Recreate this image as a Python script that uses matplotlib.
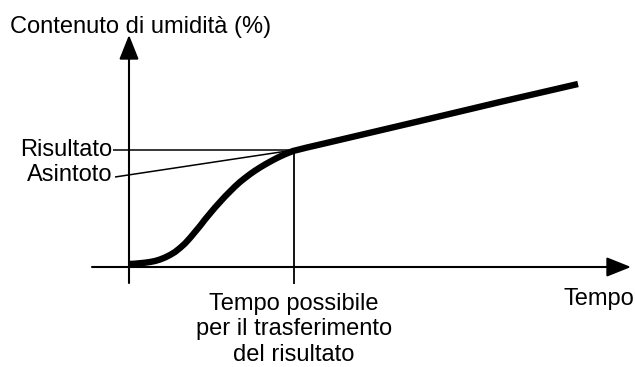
import matplotlib
matplotlib.use("Agg")
import matplotlib.pyplot as plt
import numpy as np

plt.rcParams['font.family'] = ['Liberation Sans', 'DejaVu Sans']

# Moisture-content curve (time, moisture), arbitrary units
curve_t = [0, 6, 11, 16, 21, 26, 31, 36, 41, 46, 51, 56, 61, 66, 71, 76, 81, 86, 91, 96,
           101, 106, 111, 116, 121, 126, 131, 136, 141, 146, 151, 157, 164, 178, 191,
           240, 291, 371, 449]
curve_m = [3, 3.3, 3.8, 4.3, 5, 6, 7.5, 9.5, 12, 15, 19, 23.5, 29, 35, 41, 47.5, 53.5, 59.5, 65, 70.5,
           75.5, 80.5, 85, 89, 92.8, 96.3, 99.5, 102.5, 105.3, 108, 110.5, 113.2, 116, 119.5, 122.5,
           134, 146, 165, 183]

# Result point and asymptote
result_t = 165
result_m = 117
asymptote_t = [-14, 165]
asymptote_m = [90, 117]

y_label = "Contenuto di umidità (%)"
x_label = "Tempo"
result_label = "Risultato"
asymptote_label = "Asintoto"
time_label = "Tempo possibile\nper il trasferimento\ndel risultato"

fig = plt.figure(figsize=(6.35, 3.67), dpi=100)
ax = fig.add_axes([0, 0, 1, 1])
ax.set_xlim(-129, 506)
ax.set_ylim(-100, 267)
ax.axis('off')

fs = 17
lw_axis = 1.5

astyle = '-|>,head_length=0.75,head_width=0.3'
# axes with arrows
ax.annotate('', xy=(502, 0), xytext=(-37, 0),
            arrowprops=dict(arrowstyle=astyle, mutation_scale=20, lw=lw_axis,
                            color='black', shrinkA=0, shrinkB=0))
ax.annotate('', xy=(0, 232), xytext=(0, -16),
            arrowprops=dict(arrowstyle=astyle, mutation_scale=20, lw=lw_axis,
                            color='black', shrinkA=0, shrinkB=0))

# result lines
ax.plot([-16, result_t], [result_m, result_m], color='black', lw=1.1, solid_capstyle='butt')
ax.plot(asymptote_t, asymptote_m, color='black', lw=1.1, solid_capstyle='butt')
ax.plot([result_t, result_t], [result_m, -17], color='black', lw=1.3, solid_capstyle='butt')

# curve
ax.plot(curve_t, curve_m, color='black', lw=4.6, solid_capstyle='butt', solid_joinstyle='round')

# texts
ax.text(-119, 234, y_label, fontsize=fs, ha='left', va='baseline')
ax.text(505, -38, x_label, fontsize=fs, ha='right', va='baseline')
ax.text(-17, 117, result_label, fontsize=fs, ha='right', va='center')
ax.text(-17, 92, asymptote_label, fontsize=fs, ha='right', va='center')
ax.text(result_t, -26, time_label, fontsize=fs, ha='center', va='top', linespacing=1.2)

fig.savefig("out.png", dpi=100)
